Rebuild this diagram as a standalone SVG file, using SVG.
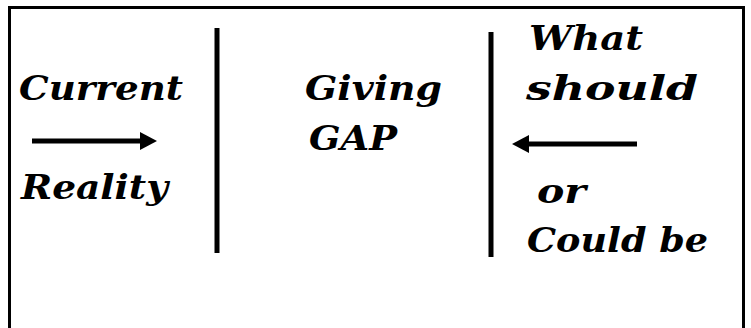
<svg xmlns="http://www.w3.org/2000/svg" width="751" height="328" viewBox="0 0 751 328">
<style>
.t{font-family:"DejaVu Serif","Liberation Serif",serif;font-weight:bold;font-style:italic;font-size:34px;fill:#000}
.div{stroke:#000;stroke-width:5}
.arr{stroke:#000;stroke-width:5;fill:none}
</style>
<defs>
<marker id="ah" markerWidth="3.4" markerHeight="3.6" refX="0" refY="1.8" orient="auto" markerUnits="strokeWidth">
<path d="M0,0 L3.4,1.8 L0,3.6 Z" fill="#000"/>
</marker>
</defs>
<rect x="9.5" y="7.5" width="734" height="330" fill="#fff" stroke="#000" stroke-width="3"/>
<g id="current"><text class="t" x="19" y="100" textLength="164" lengthAdjust="spacingAndGlyphs">Current</text>
<text class="t" x="21" y="199" textLength="147" lengthAdjust="spacingAndGlyphs">Reality</text></g>
<g id="gap"><text class="t" x="305" y="100" textLength="137" lengthAdjust="spacingAndGlyphs">Giving</text>
<text class="t" x="309" y="150" textLength="88" lengthAdjust="spacingAndGlyphs">GAP</text></g>
<g id="target"><text class="t" x="529" y="50" textLength="114" lengthAdjust="spacingAndGlyphs">What</text>
<text class="t" x="526" y="100" textLength="172" lengthAdjust="spacingAndGlyphs">should</text>
<text class="t" x="537" y="203" textLength="49" lengthAdjust="spacingAndGlyphs">or</text>
<text class="t" x="527" y="252" textLength="181" lengthAdjust="spacingAndGlyphs">Could be</text></g>
<g id="dividers"><line class="div" x1="217" y1="28" x2="217" y2="253"/>
<line class="div" x1="491" y1="32" x2="491" y2="257"/></g>
<g id="connectors">
<line class="arr" x1="32" y1="141" x2="140" y2="141" marker-end="url(#ah)"/>
<line class="arr" x1="637" y1="144" x2="529" y2="144" marker-end="url(#ah)"/>
</g>
</svg>
